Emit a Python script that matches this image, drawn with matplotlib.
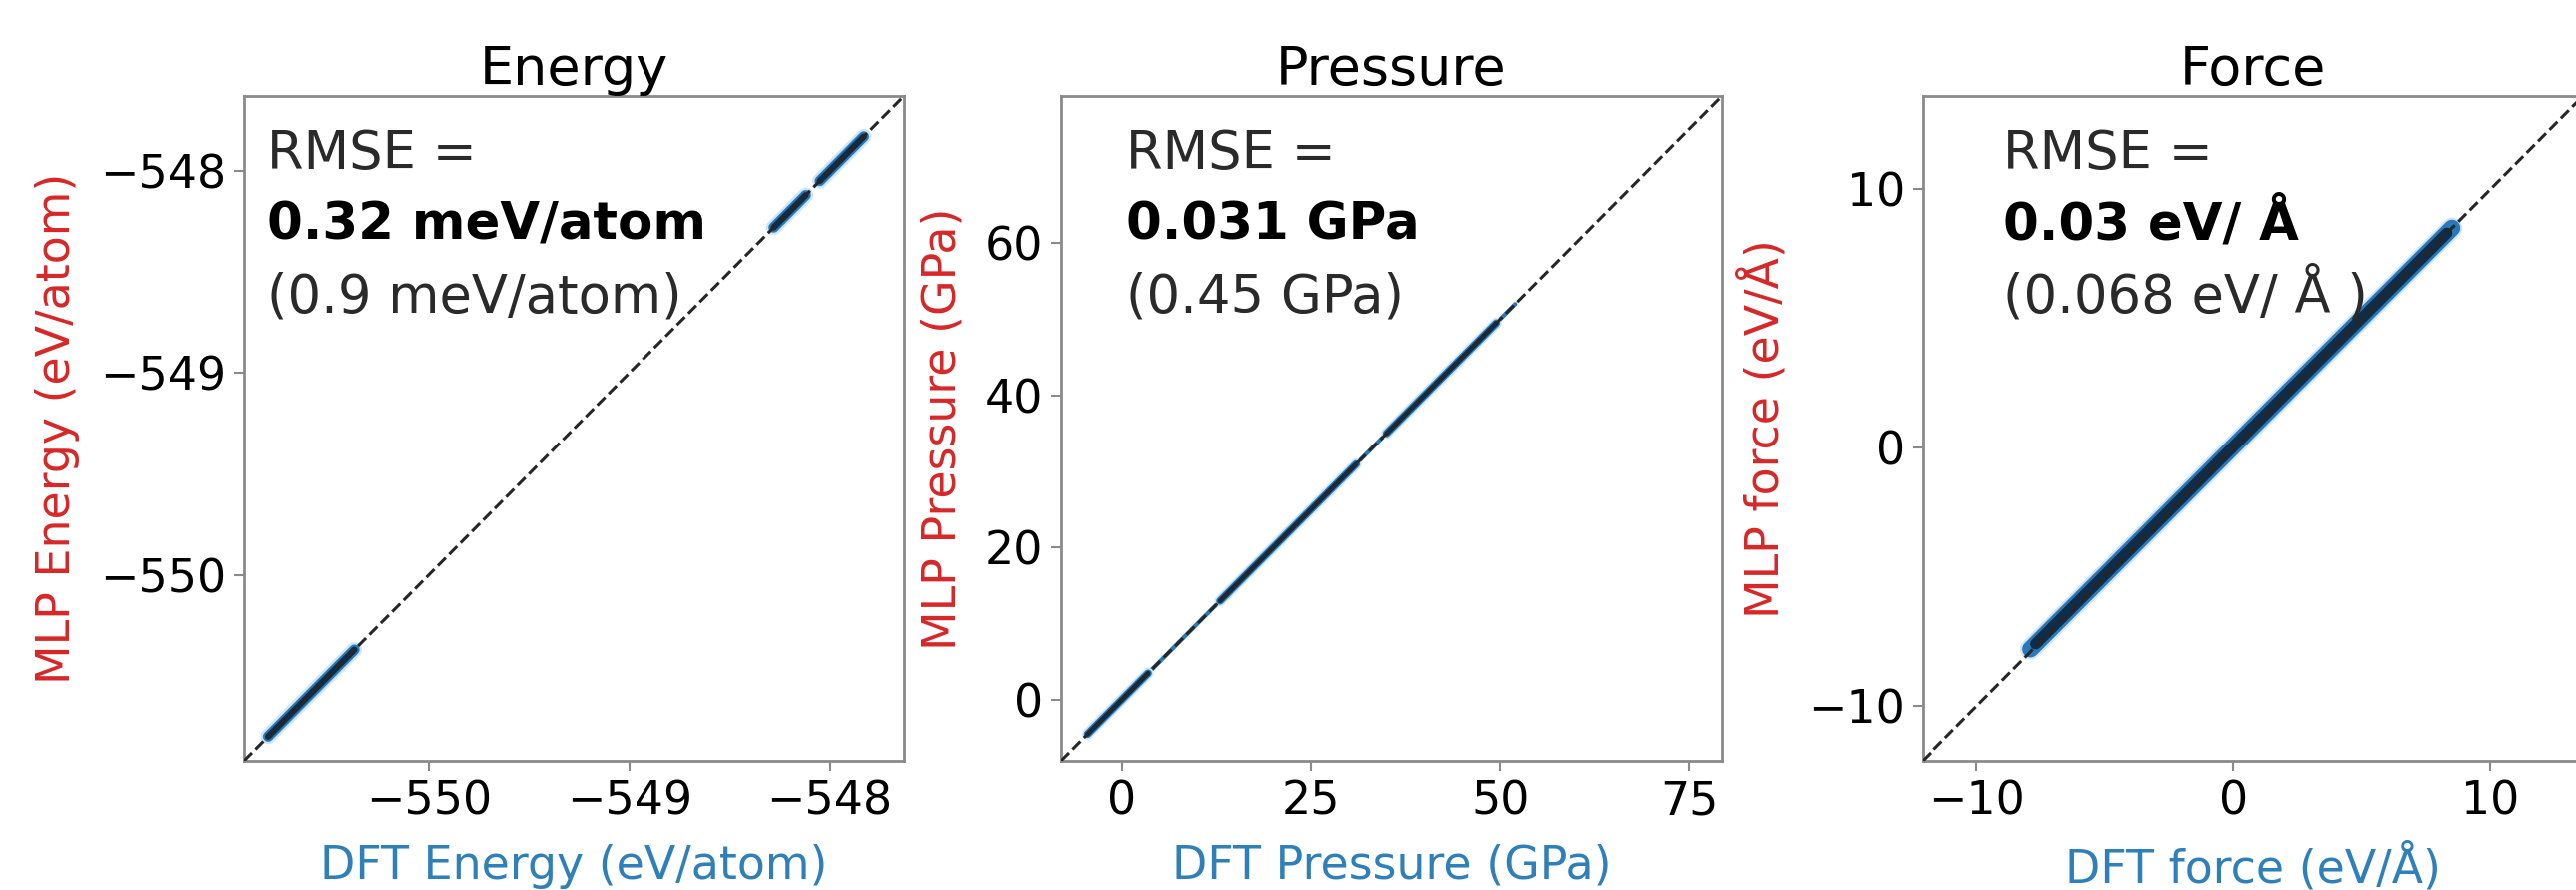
import numpy as np
import matplotlib
matplotlib.use("Agg")
import matplotlib.pyplot as plt

plt.rcParams['font.family'] = ['DejaVu Sans']

# ---------------- data ----------------
titles = ["Energy", "Pressure", "Force"]
xlabels = ["DFT Energy (eV/atom)", "DFT Pressure (GPa)", "DFT force (eV/Å)"]
ylabels = ["MLP Energy (eV/atom)", "MLP Pressure (GPa)", "MLP force (eV/Å)"]
rmse_main = ["0.32 meV/atom", "0.031 GPa", "0.03 eV/ Å"]
rmse_sub = ["(0.9 meV/atom)", "(0.45 GPa)", "(0.068 eV/ Å )"]

# axis ranges and ticks
energy_lim = [-550.92, -547.63]
pressure_lim = [-8.0, 79.3]
force_lim = [-12.12, 13.6]
energy_ticks = [-550, -549, -548]
pressure_xticks = [0, 25, 50, 75]
pressure_yticks = [0, 20, 40, 60]
force_ticks = [-10, 0, 10]

# dense point clouds along the diagonal (segment ends; NaN separates clusters)
energy_dft = [-550.80, -550.37, np.nan, -548.28, -548.12, np.nan, -548.05, -547.83]
energy_mlp = [-550.80, -550.37, np.nan, -548.28, -548.12, np.nan, -548.05, -547.83]

pressure_dft_all = [-4.5, 52.0]
pressure_mlp_all = [-4.5, 52.0]
pressure_dft_dense = [-4.5, 3.5, np.nan, 13.0, 31.0, np.nan, 35.0, 49.5]
pressure_mlp_dense = [-4.5, 3.5, np.nan, 13.0, 31.0, np.nan, 35.0, 49.5]

force_dft = [-7.9, 8.5]
force_mlp = [-7.8, 8.5]
force_dft_core = [-7.7, 8.3]
force_mlp_core = [-7.6, 8.3]

# ---------------- figure ----------------
W, H = 2578, 891
fig = plt.figure(figsize=(W / 100, H / 100), dpi=100)

ax_w = 661 / W
ax_h = 666 / H
bottom = (H - 762) / H
lefts = [244 / W, 1062 / W, 1924 / W]
axes = [fig.add_axes([l, bottom, ax_w, ax_h]) for l in lefts]

halo = '#cfe6f7'
mid = '#2a78b8'
core = '#0f2c48'
red = '#d62728'
blue = '#2f7fb8'
spine_c = '#8a8a8a'
txt_c = '#2a2a2a'

lims = [energy_lim, pressure_lim, force_lim]

for i, ax in enumerate(axes):
    lo, hi = lims[i]
    ax.set_xlim(lo, hi)
    ax.set_ylim(lo, hi)

# Energy
ax = axes[0]
ax.plot(energy_dft, energy_mlp, color=halo, lw=11, solid_capstyle='round', zorder=1)
ax.plot(energy_dft, energy_mlp, color=mid, lw=7.5, solid_capstyle='round', zorder=2)
ax.plot(energy_dft, energy_mlp, color=core, lw=4.5, solid_capstyle='round', zorder=2)
ax.set_xticks(energy_ticks)
ax.set_yticks(energy_ticks)

# Pressure
ax = axes[1]
ax.plot(pressure_dft_all, pressure_mlp_all, color=mid, lw=3.0, solid_capstyle='round', zorder=1)
ax.plot(pressure_dft_dense, pressure_mlp_dense, color=halo, lw=8, solid_capstyle='round', zorder=1)
ax.plot(pressure_dft_dense, pressure_mlp_dense, color=mid, lw=5.5, solid_capstyle='round', zorder=2)
ax.plot(pressure_dft_dense, pressure_mlp_dense, color=core, lw=3.5, solid_capstyle='round', zorder=2)
ax.set_xticks(pressure_xticks)
ax.set_yticks(pressure_yticks)

# Force
ax = axes[2]
ax.plot(force_dft, force_mlp, color=halo, lw=15, solid_capstyle='round', zorder=1)
ax.plot(force_dft, force_mlp, color=mid, lw=12, solid_capstyle='round', zorder=2)
ax.plot(force_dft_core, force_mlp_core, color=core, lw=8, solid_capstyle='round', zorder=2)
ax.set_xticks(force_ticks)
ax.set_yticks(force_ticks)

text_x = [0.035, 0.098, 0.122]
for i, ax in enumerate(axes):
    lo, hi = lims[i]
    ax.plot([lo, hi], [lo, hi], color='#262626', ls='--', lw=2.2, zorder=3)
    ax.set_title(titles[i], fontsize=39, pad=7)
    ax.set_xlabel(xlabels[i], fontsize=33, color=blue, labelpad=14)
    ax.set_ylabel(ylabels[i], fontsize=33, color=red, labelpad=14)
    ax.tick_params(axis='both', labelsize=33, length=7, width=1.5, color=spine_c,
                   pad=6, labelcolor='black')
    for s in ax.spines.values():
        s.set_color(spine_c)
        s.set_linewidth(2.0)
    tx = text_x[i]
    ax.text(tx, 0.89, "RMSE =", transform=ax.transAxes, fontsize=38,
            fontweight='normal', color=txt_c, va='baseline', ha='left')
    ax.text(tx, 0.785, rmse_main[i], transform=ax.transAxes, fontsize=37,
            fontweight='bold', color='black', va='baseline', ha='left')
    ax.text(tx, 0.675, rmse_sub[i], transform=ax.transAxes, fontsize=38,
            fontweight='normal', color=txt_c, va='baseline', ha='left')

fig.savefig("out.png", dpi=100, facecolor='white')
